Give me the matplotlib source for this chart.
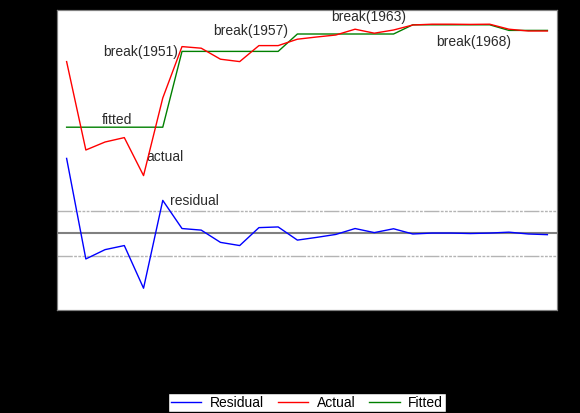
import matplotlib
matplotlib.use("Agg")
import matplotlib.pyplot as plt
from matplotlib.lines import Line2D

plt.rcParams['font.family'] = ['Liberation Sans', 'DejaVu Sans']

years = list(range(1945, 1971))
actual = [6.42, 2.00, 2.40, 2.62, 0.72, 4.60,
          7.17, 7.09, 6.54, 6.42, 7.22, 7.22,
          7.54, 7.65, 7.75, 8.04, 7.84, 8.00,
          8.25, 8.29, 8.29, 8.28, 8.29,
          8.04, 7.95, 7.95]
fitted = [3.14, 3.14, 3.14, 3.14, 3.14, 3.14,
          6.93, 6.93, 6.93, 6.93, 6.93, 6.93,
          7.80, 7.80, 7.80, 7.80, 7.80, 7.80,
          8.26, 8.26, 8.26, 8.26, 8.26,
          7.98, 7.98, 7.98]
residual = [3.30, -1.13, -0.72, -0.54, -2.42, 1.45,
            0.21, 0.14, -0.40, -0.54, 0.25, 0.28,
            -0.30, -0.18, -0.05, 0.21, 0.03, 0.20,
            -0.03, 0.01, 0.01, -0.01, 0.01,
            0.05, -0.03, -0.06]
resid_sd = 1.0
breaks = [1951, 1957, 1963, 1968]

fig = plt.figure(figsize=(5.8, 4.13), dpi=100, facecolor='black')
ax = fig.add_axes([57/580, 1 - 310/413, 500/580, 300/413])
ax.set_facecolor('white')
ax2 = ax.twinx()

# residual axis (left)
band_ls = (0, (11, 1, 2, 1, 2, 1, 2, 1, 2, 1))
ax.axhline(0, color='#808080', lw=1.5, zorder=1)
ax.axhline(resid_sd, color='#b4b4b4', lw=1.0, ls=band_ls, zorder=1)
ax.axhline(-resid_sd, color='#b4b4b4', lw=1.0, ls=band_ls, zorder=1)
ax.plot(years, residual, color='#0000ff', lw=1.0, zorder=3)
ax.set_ylim(-3.38, 9.84)
ax.set_xlim(1944.5, 1970.5)

# actual / fitted axis (right)
ax2.plot(years, fitted, color='#008000', lw=1.0, zorder=3)
ax2.plot(years, actual, color='#ff0000', lw=1.0, zorder=4)
ax2.set_ylim(-6.0, 9.0)

for a in (ax, ax2):
    for s in a.spines.values():
        s.set_color('#808080')
    a.tick_params(colors='black', labelcolor='black', labelsize=9)

txt = dict(fontsize=10, color='#2b2b2b', va='center', ha='left')
ax2.text(1946.89, 6.9, 'break(1951)', **txt)
ax2.text(1952.6, 7.95, 'break(1957)', **txt)
ax2.text(1958.78, 8.65, 'break(1963)', **txt)
ax2.text(1964.24, 7.4, 'break(1968)', **txt)
ax2.text(1946.83, 3.5, 'fitted', **txt)
ax2.text(1949.17, 1.65, 'actual', **txt)
ax.text(1950.37, 1.42, 'residual', **txt)

handles = [Line2D([], [], color='#0000ff', lw=1.0),
           Line2D([], [], color='#ff0000', lw=1.0),
           Line2D([], [], color='#008000', lw=1.0)]
leg = fig.legend(handles, ['Residual', 'Actual', 'Fitted'], loc='lower center',
                 bbox_to_anchor=(307/580, 0.0), ncol=3, frameon=True,
                 fancybox=False, framealpha=1, edgecolor='black',
                 fontsize=10, handlelength=2.2, handletextpad=0.6,
                 columnspacing=1.0, borderpad=0.2, borderaxespad=0.05)
leg.get_frame().set_linewidth(1.0)

fig.savefig('out.png', dpi=100, facecolor='black')
